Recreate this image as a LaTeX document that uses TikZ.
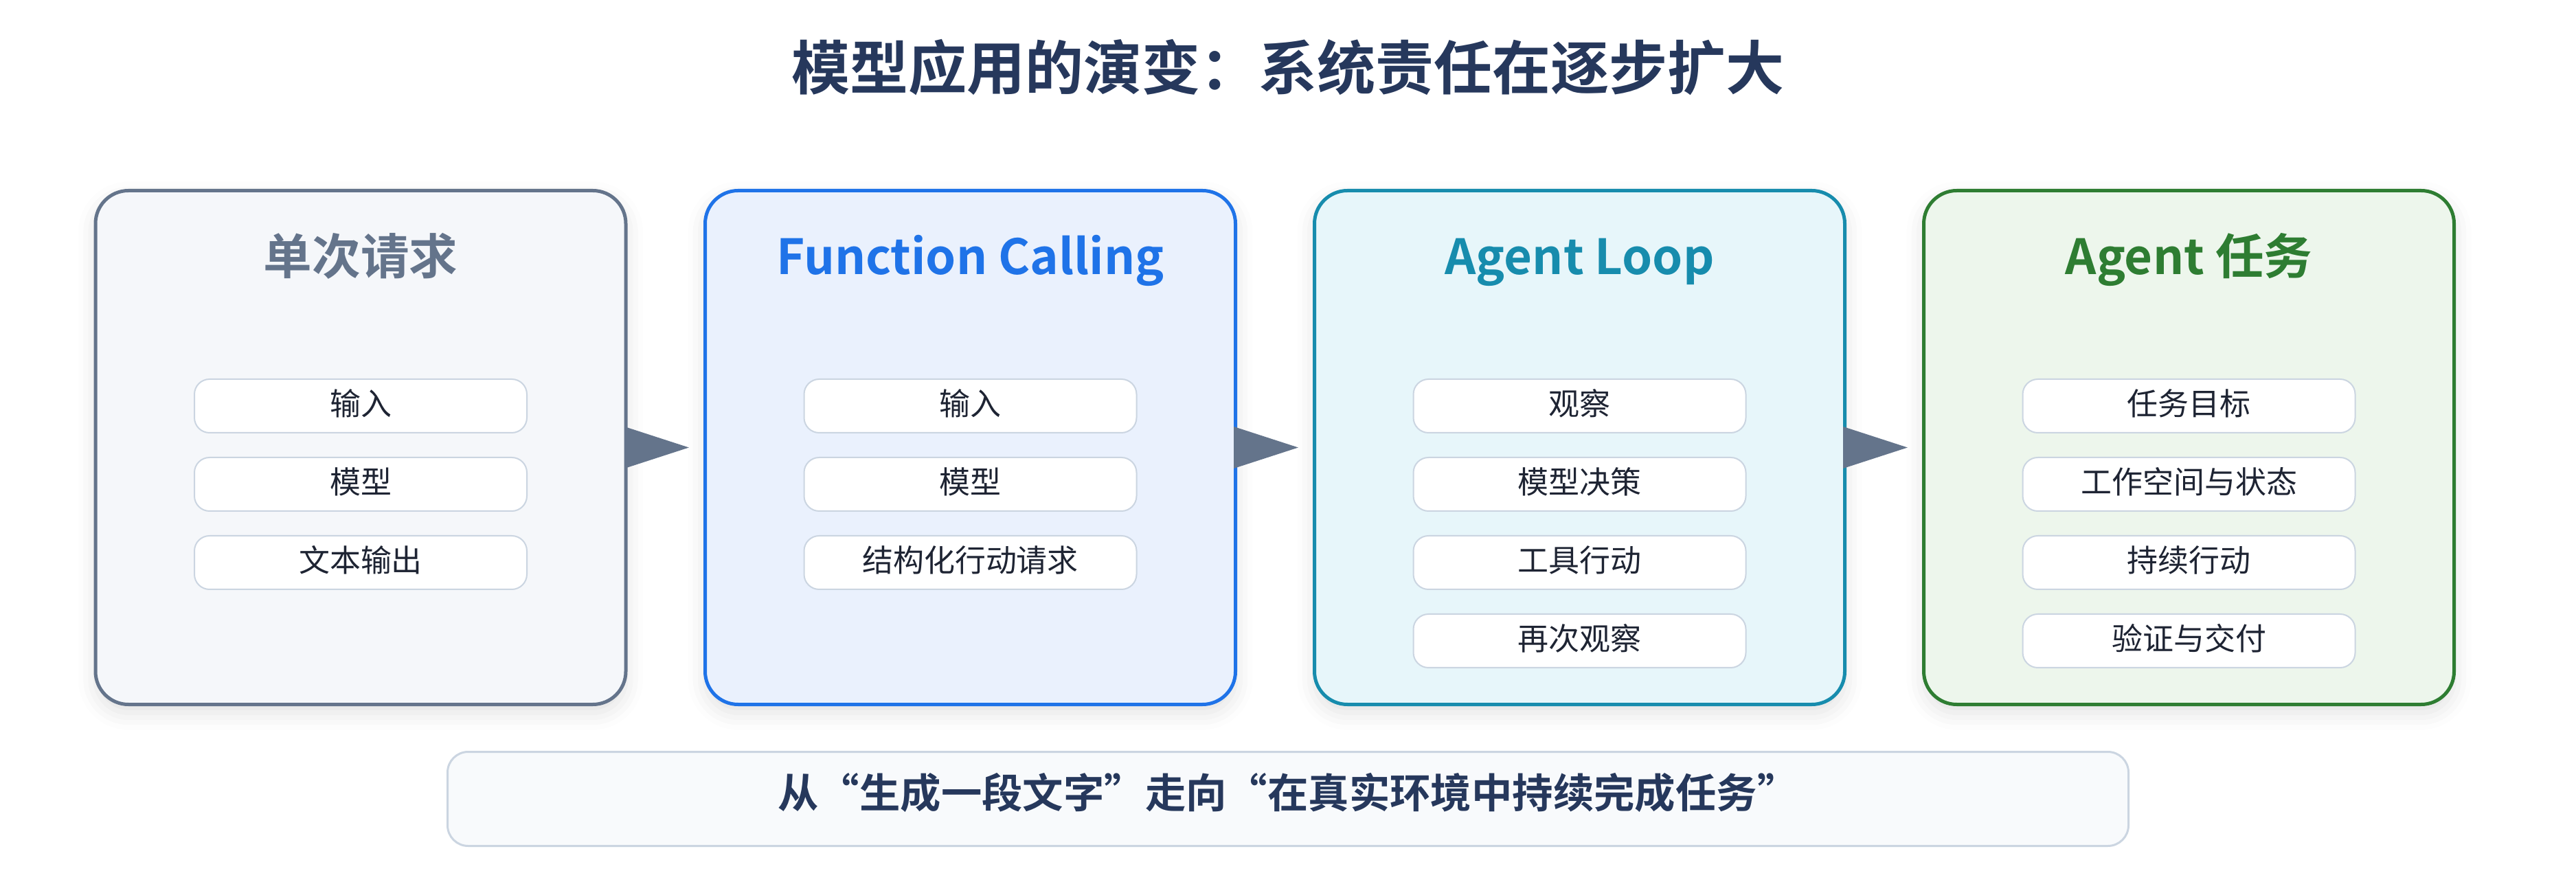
\documentclass[tikz,border=0pt]{standalone}
\usepackage{fontspec}
\setmainfont{Noto Sans CJK SC}[BoldFont={Noto Sans CJK SC Bold}]
\usetikzlibrary{arrows.meta,positioning,shadows.blur}

\definecolor{naslov}{HTML}{26385C}
\definecolor{slate}{HTML}{64748B}
\definecolor{slatefill}{HTML}{F5F7FA}
\definecolor{blue}{HTML}{1F73E8}
\definecolor{bluefill}{HTML}{EAF1FD}
\definecolor{teal}{HTML}{178CAD}
\definecolor{tealfill}{HTML}{E7F6FA}
\definecolor{green}{HTML}{2E7D32}
\definecolor{greenfill}{HTML}{EDF6EC}
\definecolor{itemline}{HTML}{CBD5E1}
\definecolor{itemtext}{HTML}{1E2433}
\definecolor{sumfill}{HTML}{F8FAFC}

\tikzset{
  stage/.style={draw=#1, fill=#1fill, line width=0.05cm, rounded corners=0.48cm,
    minimum width=7.72cm, minimum height=7.48cm,
    blur shadow={shadow xshift=0pt, shadow yshift=-0.12cm, shadow blur radius=0.25cm, shadow opacity=12}},
  heading/.style={anchor=base, text=#1, font=\bfseries\fontsize{20.1pt}{24pt}\selectfont},
  item/.style={draw=itemline, line width=0.02cm, fill=white, rounded corners=0.22cm,
    minimum width=4.84cm, minimum height=0.78cm, inner sep=0pt,
    text height=0.78em, text depth=0.02em, text=itemtext,
    font=\fontsize{12.8pt}{15pt}\selectfont},
  flow/.style={draw=slate, fill=slate, line width=1pt,
    -{Triangle[length=0.94cm,width=0.6cm]}, shorten >=0.21cm}
}

\begin{document}
\begin{tikzpicture}
\useasboundingbox (0,0) rectangle (37.5,-13);

\draw (18.75,-1.31) node(title)[anchor=base, text=naslov,
  font=\bfseries\fontsize{24.2pt}{29pt}\selectfont] {模型应用的演变：系统责任在逐步扩大};

\draw (5.25,-6.515) node(single)[stage=slate] {};
\draw (14.125,-6.515) node(calling)[stage=blue] {};
\draw (22.995,-6.515) node(loop)[stage=teal] {};
\draw (31.865,-6.515) node(task)[stage=green] {};

\draw (single.center |- 0,-4.0) node(singlehead)[heading=slate] {单次请求};
\draw (calling.center |- 0,-4.0) node(callinghead)[heading=blue] {Function Calling};
\draw (loop.center |- 0,-4.0) node(loophead)[heading=teal] {Agent Loop};
\draw (task.center |- 0,-4.0) node(taskhead)[heading=green] {Agent 任务};

\draw (single.center |- 0,-5.91) node(single1)[item] {输入};
\node(single2)[item, below=0.34cm of single1] {模型};
\node(single3)[item, below=0.34cm of single2] {文本输出};

\draw (calling.center |- 0,-5.91) node(calling1)[item] {输入};
\node(calling2)[item, below=0.34cm of calling1] {模型};
\node(calling3)[item, below=0.34cm of calling2] {结构化行动请求};

\draw (loop.center |- 0,-5.91) node(loop1)[item] {观察};
\node(loop2)[item, below=0.34cm of loop1] {模型决策};
\node(loop3)[item, below=0.34cm of loop2] {工具行动};
\node(loop4)[item, below=0.34cm of loop3] {再次观察};

\draw (task.center |- 0,-5.91) node(task1)[item] {任务目标};
\node(task2)[item, below=0.34cm of task1] {工作空间与状态};
\node(task3)[item, below=0.34cm of task2] {持续行动};
\node(task4)[item, below=0.34cm of task3] {验证与交付};

\draw[flow] (single.east) -- (calling.west);
\draw[flow] (calling.east) -- (loop.west);
\draw[flow] (loop.east) -- (task.west);

\draw (18.75,-11.63) node(summary)[draw=itemline, fill=sumfill, line width=0.03cm,
  rounded corners=0.3cm, minimum width=24.47cm, minimum height=1.37cm,
  text height=0.78em, text depth=0.02em, text=naslov,
  font=\bfseries\fontsize{16.9pt}{20pt}\selectfont]
  {从“生成一段文字”走向“在真实环境中持续完成任务”};
\end{tikzpicture}
\end{document}
